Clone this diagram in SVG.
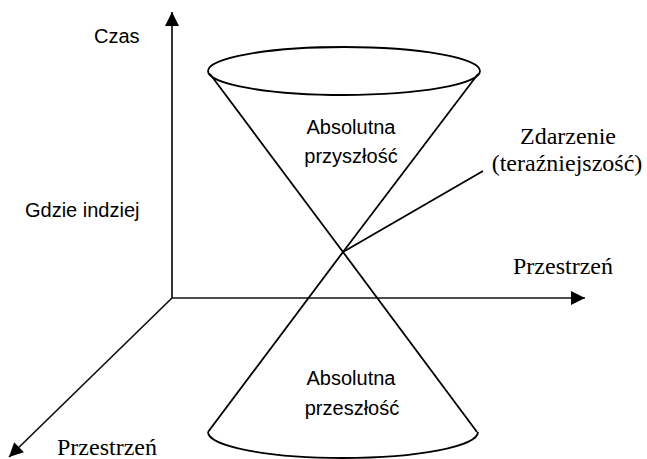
<svg xmlns="http://www.w3.org/2000/svg" width="647" height="459" viewBox="0 0 647 459">
<defs>
<marker id="arr" viewBox="0 0 14 14" refX="14" refY="7" markerWidth="15" markerHeight="14" markerUnits="userSpaceOnUse" orient="auto">
<path d="M0,0 L14,7 L0,14 Z" fill="#000"/>
</marker>
<style>
.ln{stroke:#000;stroke-width:1.8;fill:none}
.ax{stroke:#111;stroke-width:1.7;fill:none}
.sans{font-family:"Liberation Sans",Arial,sans-serif;font-size:20px;fill:#000}
.serif{font-family:"Liberation Serif","Times New Roman",serif;font-size:24px;fill:#000}
</style>
</defs>
<rect width="647" height="459" fill="#fff"/>
<g id="connectors">
<line class="ax" x1="172" y1="298" x2="172" y2="12" marker-end="url(#arr)"/>
<line class="ax" x1="172" y1="298" x2="585" y2="298" marker-end="url(#arr)"/>
<line class="ax" x1="172" y1="298" x2="9" y2="457" marker-end="url(#arr)"/>
<line class="ln" x1="343" y1="252" x2="483" y2="171"/>
</g>
<g id="cone-future">
<ellipse class="ln" cx="344" cy="71" rx="136" ry="24"/>
<line class="ln" x1="210" y1="74" x2="343" y2="252"/>
<line class="ln" x1="478" y1="74" x2="343" y2="252"/>
<text class="sans" x="351" y="134" text-anchor="middle">Absolutna</text>
<text class="sans" x="351" y="163" text-anchor="middle">przyszłość</text>
</g>
<g id="cone-past">
<line class="ln" x1="343" y1="252" x2="477" y2="432"/>
<line class="ln" x1="343" y1="252" x2="208" y2="432"/>
<path class="ln" d="M208,432 A135,26 0 0 0 478,432"/>
<text class="sans" x="351" y="385" text-anchor="middle">Absolutna</text>
<text class="sans" x="352" y="415" text-anchor="middle">przeszłość</text>
</g>
<g id="label-czas"><text class="sans" x="94" y="43">Czas</text></g>
<g id="label-gdzie"><text class="sans" x="25" y="217">Gdzie indziej</text></g>
<g id="label-zdarzenie">
<text class="serif" x="568" y="144" text-anchor="middle">Zdarzenie</text>
<text class="serif" x="567" y="171" text-anchor="middle">(teraźniejszość)</text>
</g>
<g id="label-przestrzen-x"><text class="serif" x="513" y="274">Przestrzeń</text></g>
<g id="label-przestrzen-z"><text class="serif" x="57" y="455">Przestrzeń</text></g>
</svg>
